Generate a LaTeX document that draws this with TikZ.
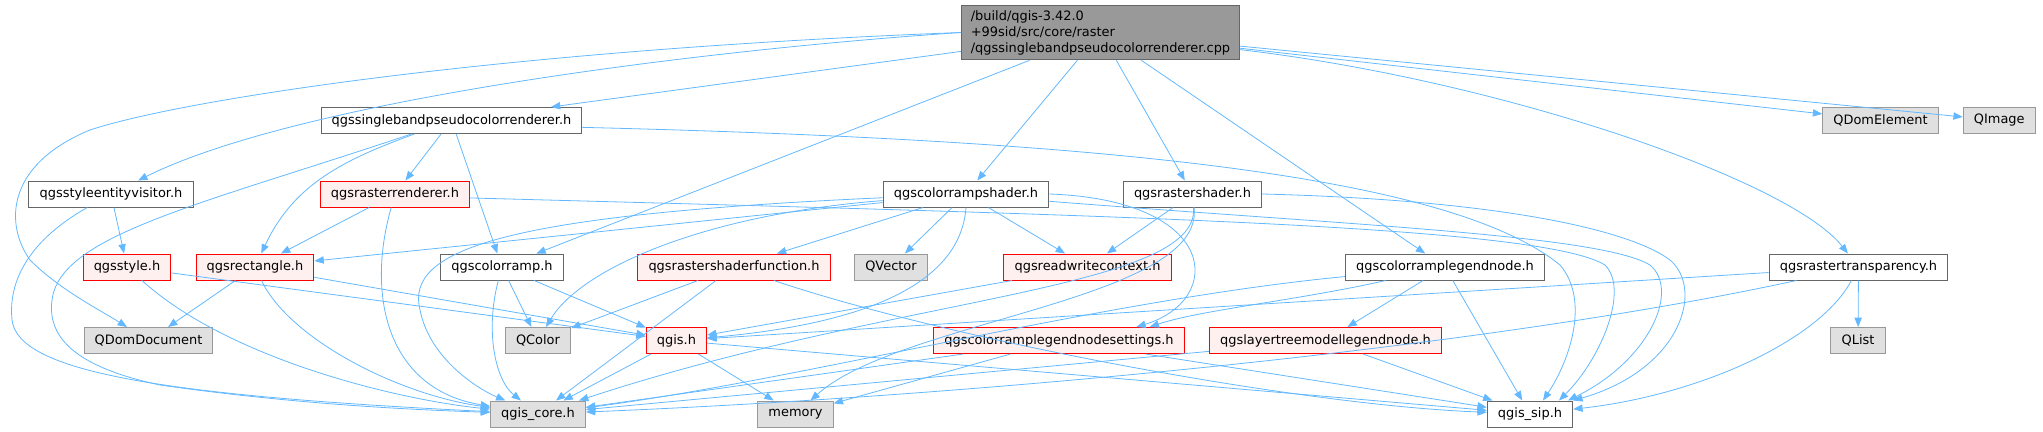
\documentclass[tikz,border=0pt]{standalone}
\usepackage{fontspec}
\setmainfont{DejaVu Sans}
\usepackage{xcolor}
\usepackage{tikz}
\usetikzlibrary{arrows.meta,positioning}

\definecolor{edgeblue}{HTML}{63B8FF}
\definecolor{fileline}{HTML}{666666}
\definecolor{redline}{HTML}{FF0000}
\definecolor{redfill}{HTML}{FFF0F0}
\definecolor{extline}{HTML}{999999}
\definecolor{extfill}{HTML}{E0E0E0}
\definecolor{rootfill}{HTML}{999999}

\begin{document}
\begin{tikzpicture}[
    x=0.75pt, y=-0.75pt,
    font=\fontsize{9.7}{12}\selectfont,
    filebox/.style={rectangle, draw=fileline, fill=white, line width=0.75pt, inner xsep=8pt, inner ysep=2pt, minimum height=19.5pt},
    redbox/.style={filebox, draw=redline, fill=redfill},
    extbox/.style={filebox, draw=extline, fill=extfill},
    rootbox/.style={filebox, fill=rootfill, align=left, inner xsep=7pt, minimum height=41pt},
    arrow/.style={draw=edgeblue, line width=0.6pt, ->, >={Triangle[length=7pt,width=5.5pt]}}
]
\useasboundingbox (0,0) rectangle (2043,432);

% Source file
\node[rootbox] (root) at (1100.5,32.5) {/build/qgis-3.42.0\\+99sid/src/core/raster\\/qgssinglebandpseudocolorrenderer.cpp};

% First level
\node[filebox] (ssbr) at (451.5,120.5) {qgssinglebandpseudocolorrenderer.h};
\node[extbox] (qdelem) at (1880.5,120.5) {QDomElement};
\node[extbox, right=18pt of qdelem] (qimage) {QImage};

% Second level
\node[filebox] (sev) at (111,194) {qgsstyleentityvisitor.h};
\node[redbox] (rrend) at (395,194) {qgsrasterrenderer.h};
\node[filebox] (crs) at (966,194) {qgscolorrampshader.h};
\node[filebox] (rsh) at (1192.5,194) {qgsrastershader.h};

% Third level
\node[redbox] (qstyle) at (127,267) {qgsstyle.h};
\node[redbox] (qrect) at (255,267) {qgsrectangle.h};
\node[filebox] (cramp) at (502,267) {qgscolorramp.h};
\node[redbox] (sfunc) at (734,267) {qgsrastershaderfunction.h};
\node[extbox] (qvector) at (891,267) {QVector};
\node[redbox] (rwc) at (1087.5,267) {qgsreadwritecontext.h};
\node[filebox] (crln) at (1445,267) {qgscolorramplegendnode.h};
\node[filebox] (rtr) at (1858.5,267) {qgsrastertransparency.h};

% Fourth level
\node[extbox] (qdomdoc) at (148.5,340.5) {QDomDocument};
\node[extbox] (qcolor) at (538,340.5) {QColor};
\node[redbox] (qgish) at (676.5,340.5) {qgis.h};
\node[redbox] (cset) at (1059,340.5) {qgscolorramplegendnodesettings.h};
\node[redbox] (ltml) at (1325.5,340.5) {qgslayertreemodellegendnode.h};
\node[extbox] (qlist) at (1858,340.5) {QList};

% Bottom level
\node[extbox] (core) at (538,414) {qgis\_core.h};
\node[extbox] (memory) at (795.5,414) {memory};
\node[filebox] (sip) at (1530,414) {qgis\_sip.h};

% Arrows from the source file
\draw[arrow] (root) -- (ssbr);
\draw[arrow] (root.west) .. controls (700,50) and (300,100) .. (sev);
\draw[arrow] (root.west) .. controls (500,50) and (180,100) .. (90,130) .. controls (5,165) and (5,225) .. (30,260) .. controls (60,290) and (100,310) .. (qdomdoc);
\draw[arrow] (root) -- (cramp);
\draw[arrow] (root) -- (crs);
\draw[arrow] (root) -- (rsh);
\draw[arrow] (root) -- (crln);
\draw[arrow] (root.-7) .. controls (1500,80) and (1790,180) .. (rtr);
\draw[arrow] (root) -- (qdelem);
\draw[arrow] (root) -- (qimage);

% qgssinglebandpseudocolorrenderer.h
\draw[arrow] (ssbr) -- (rrend);
\draw[arrow] (ssbr) -- (cramp);
\draw[arrow] (ssbr) to[out=200,in=65] (qrect);
\draw[arrow] (ssbr) .. controls (200,205) and (60,235) .. (52,300) .. controls (46,345) and (90,370) .. (160,385) .. controls (300,405) and (420,410) .. (core);
\draw[arrow] (ssbr.-3) .. controls (1100,140) and (1450,175) .. (1560,265) .. controls (1590,300) and (1570,360) .. ([xshift=9.75pt]sip.north);

% qgsstyleentityvisitor.h
\draw[arrow] (sev) -- (qstyle);
\draw[arrow] (sev) .. controls (30,240) and (8,280) .. (12,320) .. controls (18,370) and (150,395) .. (core);

% qgsrasterrenderer.h
\draw[arrow] (rrend) -- (qrect);
\draw[arrow] (rrend) .. controls (365,300) and (390,390) .. (core);
\draw[arrow] (rrend.-3) .. controls (1100,215) and (1540,225) .. (1605,265) .. controls (1630,290) and (1600,360) .. ([xshift=21.75pt]sip.north);

% qgsstyle.h and qgsrectangle.h
\draw[arrow] (qstyle) -- (qgish);
\draw[arrow] (qstyle) .. controls (230,360) and (400,400) .. (core);
\draw[arrow] (qrect) -- (qdomdoc);
\draw[arrow] (qrect) -- (qgish);
\draw[arrow] (qrect) .. controls (290,340) and (400,395) .. (core);

% qgscolorramp.h
\draw[arrow] (cramp) -- (qcolor);
\draw[arrow] (cramp) -- (qgish);
\draw[arrow] (cramp) .. controls (485,330) and (495,380) .. (core);

% qgscolorrampshader.h
\draw[arrow] (crs) -- (qrect);
\draw[arrow] (crs) -- (sfunc);
\draw[arrow] (crs) -- (qvector);
\draw[arrow] (crs) -- (rwc);
\draw[arrow] (crs) .. controls (700,215) and (580,270) .. (qcolor);
\draw[arrow] (crs.south) .. controls (960,290) and (850,325) .. (qgish);
\draw[arrow] (crs) .. controls (500,215) and (405,250) .. (420,310) .. controls (430,360) and (480,390) .. (core);
\draw[arrow] (crs.east) .. controls (1220,200) and (1225,300) .. ([xshift=58pt]cset.north);
\draw[arrow] (crs.-5) .. controls (1350,225) and (1600,235) .. (1650,265) .. controls (1680,290) and (1650,360) .. ([xshift=28.5pt]sip.north);

% qgsrastershader.h
\draw[arrow] (rsh) -- (rwc);
\draw[arrow] (rsh) .. controls (1205,300) and (900,320) .. (memory);
\draw[arrow] (rsh) .. controls (1200,290) and (900,295) .. (core);
\draw[arrow] (rsh.east) .. controls (1500,200) and (1630,230) .. (1670,260) .. controls (1705,290) and (1680,370) .. (sip.north east);

% qgsrastershaderfunction.h and qgsreadwritecontext.h
\draw[arrow] (sfunc) -- (qcolor);
\draw[arrow] (sfunc) -- (core);
\draw[arrow] (sfunc) .. controls (950,340) and (1300,405) .. (sip);
\draw[arrow] (rwc) -- (qgish);

% qgis.h
\draw[arrow] (qgish) -- (core);
\draw[arrow] (qgish) -- (memory);
\draw[arrow] (qgish) -- (sip);

% qgscolorramplegendnodesettings.h
\draw[arrow] (cset) -- (core);
\draw[arrow] (cset) -- (memory);
\draw[arrow] (cset) -- (sip);

% qgslayertreemodellegendnode.h
\draw[arrow] (ltml) -- (core);
\draw[arrow] (ltml) -- (sip);

% qgscolorramplegendnode.h
\draw[arrow] (crln) -- (ltml);
\draw[arrow] (crln) -- (sip);
\draw[arrow] (crln) .. controls (1300,300) and (1200,310) .. ([xshift=68pt]cset.north);
\draw[arrow] (crln) .. controls (1100,300) and (800,380) .. (core);

% qgsrastertransparency.h
\draw[arrow] (rtr) -- (qlist);
\draw[arrow] (rtr) -- (qgish);
\draw[arrow] (rtr) .. controls (1500,345) and (1000,395) .. (core);
\draw[arrow] (rtr) .. controls (1820,340) and (1700,395) .. (sip);

\end{tikzpicture}
\end{document}
